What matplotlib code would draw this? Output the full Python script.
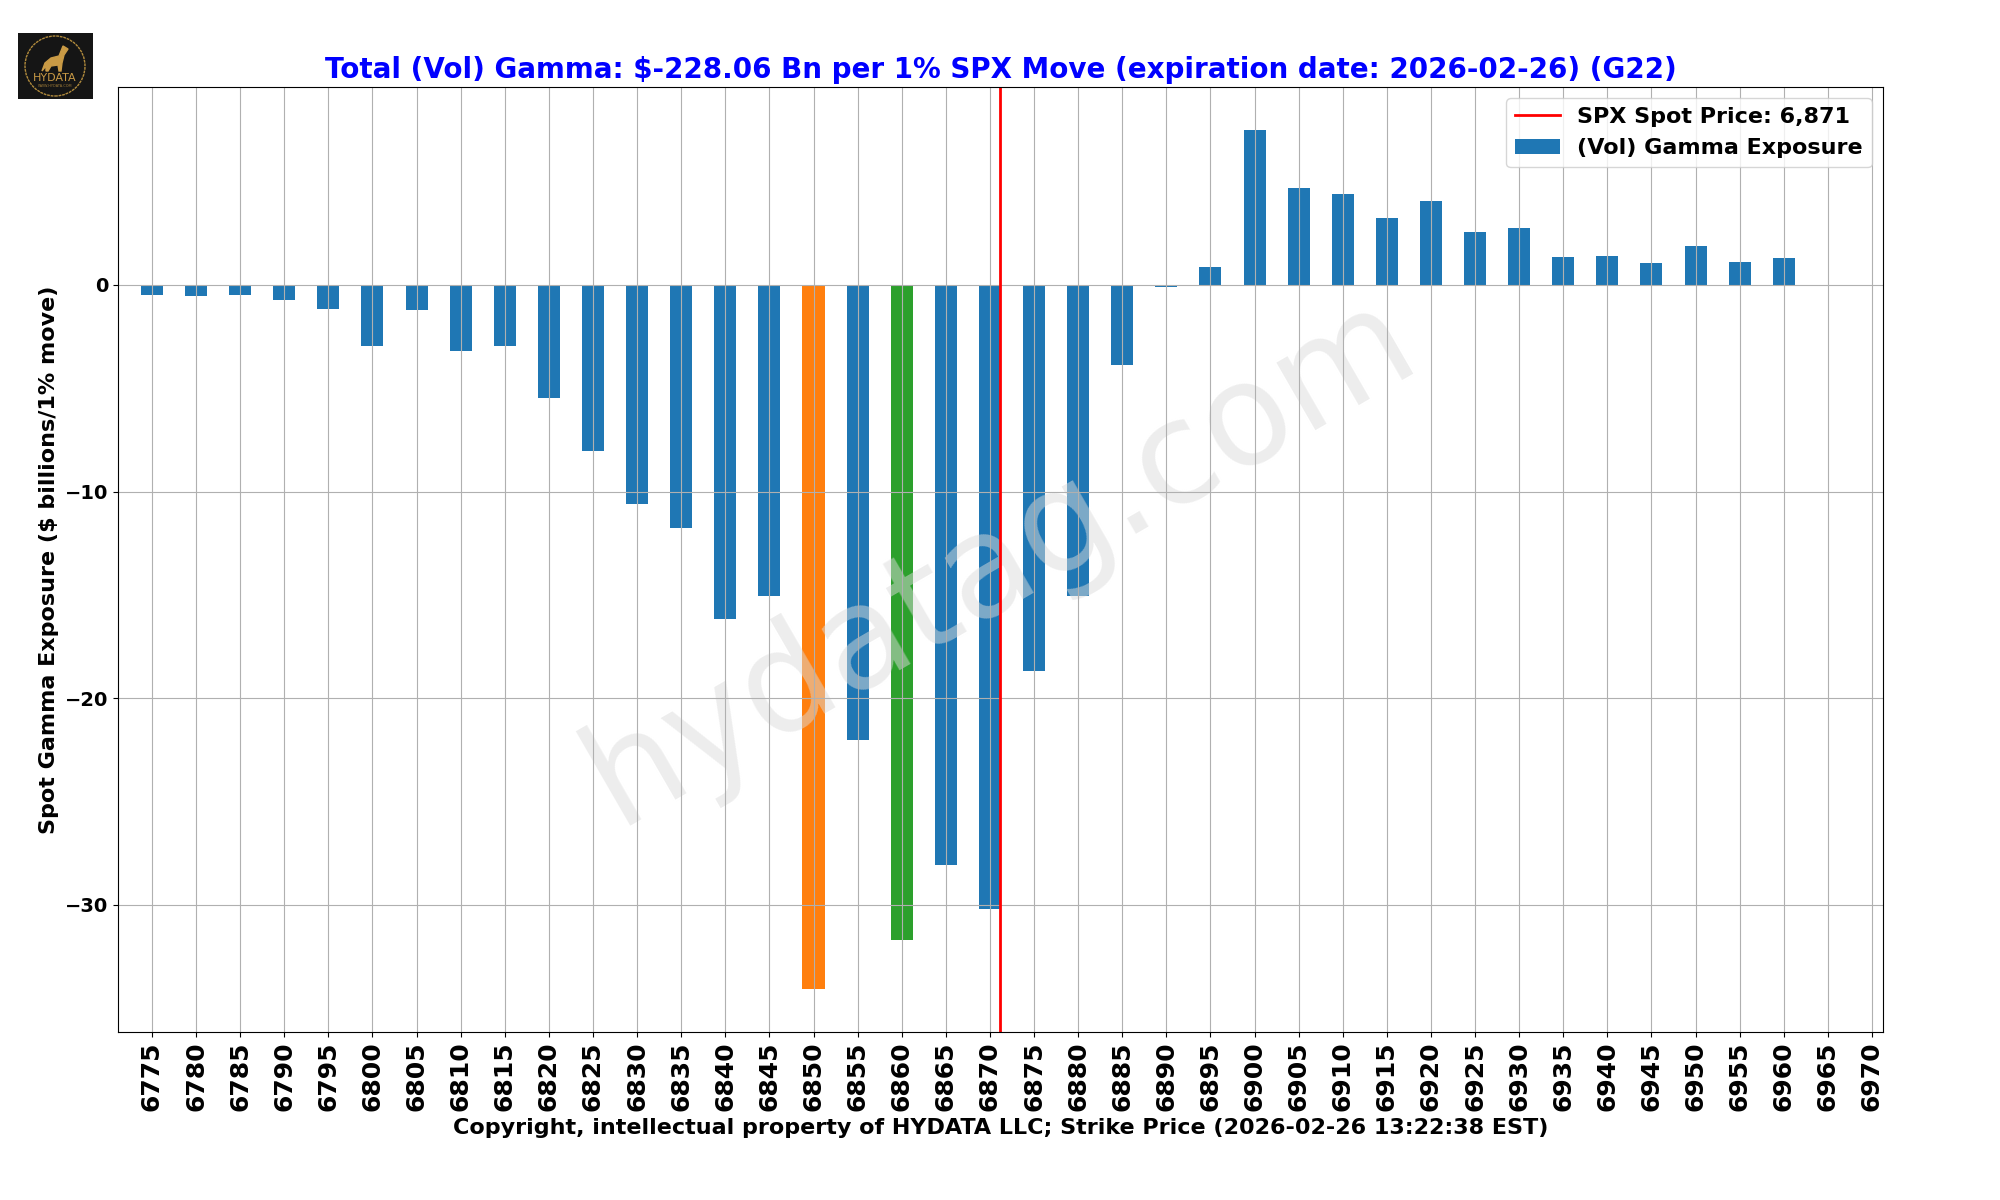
import matplotlib
matplotlib.use('Agg')
import matplotlib.pyplot as plt
from matplotlib.patches import Circle, Polygon

strikes = [6775, 6780, 6785, 6790, 6795, 6800, 6805, 6810, 6815, 6820,
           6825, 6830, 6835, 6840, 6845, 6850, 6855, 6860, 6865, 6870,
           6875, 6880, 6885, 6890, 6895, 6900, 6905, 6910, 6915, 6920,
           6925, 6930, 6935, 6940, 6945, 6950, 6955, 6960, 6965, 6970]
gamma = [-0.47, -0.56, -0.47, -0.71, -1.15, -2.96, -1.2, -3.2, -2.96, -5.48,
         -8.05, -10.6, -11.78, -16.17, -15.05, -34.08, -22.03, -31.7, -28.08, -30.22,
         -18.7, -15.05, -3.88, -0.1, 0.88, 7.52, 4.71, 4.42, 3.26, 4.08,
         2.58, 2.77, 1.37, 1.42, 1.04, 1.86, 1.13, 1.28, 0, 0]
spot = 6871.2
min_strike = 6850
second_strike = 6860
title = 'Total (Vol) Gamma: $-228.06 Bn per 1% SPX Move (expiration date: 2026-02-26) (G22)'
xlabel = 'Copyright, intellectual property of HYDATA LLC; Strike Price (2026-02-26 13:22:38 EST)'
ylabel = 'Spot Gamma Exposure ($ billions/1% move)'

W, H = 2000, 1200
fig = plt.figure(figsize=(W / 100, H / 100), dpi=100)
ax = fig.add_axes([118 / W, 1 - 1032 / H, (1883 - 118) / W, (1032 - 87) / H])

colors = []
for s in strikes:
    if s == min_strike:
        colors.append('C1')
    elif s == second_strike:
        colors.append('C2')
    else:
        colors.append('C0')

pos = list(range(len(strikes)))
bars = ax.bar(pos, gamma, width=0.5, color=colors, label='(Vol) Gamma Exposure')
spot_pos = (spot - strikes[0]) / 5
ax.axvline(spot_pos, color='red', linewidth=2, label=f'SPX Spot Price: {round(spot):,}')

ax.set_xlim(-0.77, 39.25)
ax.set_ylim(-36.16, 9.58)
ax.grid(True)
ax.set_xticks(pos)
ax.set_xticklabels(strikes, rotation=90, fontsize=18, fontweight='bold')
for lab in ax.get_yticklabels():
    lab.set_fontsize(14)
    lab.set_fontweight('bold')
ax.set_xlabel(xlabel, fontsize=16, fontweight='bold', labelpad=4.7)
ax.set_ylabel(ylabel, fontsize=16, fontweight='bold')
ax.set_title(title, fontsize=20, fontweight='bold', color='blue', pad=6.5)

handles, labels = ax.get_legend_handles_labels()
ax.legend(handles, labels, loc='upper right', prop={'size': 16, 'weight': 'bold'})

# watermark sits over the bars but under the grid
ax.text(0.5, 0.5, 'hydatag.com', transform=ax.transAxes, fontsize=102, color='#dcdcdc',
        alpha=0.5, rotation=30, ha='center', va='center', zorder=1.2)

# logo
logo = fig.add_axes([18 / W, 1 - 99 / H, 75 / W, 66 / H])
logo.set_xlim(0, 75)
logo.set_ylim(0, 66)
logo.set_facecolor('#151515')
logo.set_xticks([])
logo.set_yticks([])
for sp in logo.spines.values():
    sp.set_visible(False)
logo.add_patch(Circle((37, 33), 30, fill=False, edgecolor='#b08a3c', linewidth=1, linestyle=(0, (2, 0.6))))
logo.add_patch(Polygon([(24, 28), (27, 36), (33, 41), (41, 43), (45, 53), (50, 50), (46, 44),
                        (44, 36), (43, 28), (41, 28), (40, 34), (33, 33), (30, 28), (28, 28), (28, 33)],
                       closed=True, color='#c99a45'))
logo.text(37, 21, 'HYDATA', color='#c99a45', fontsize=8, ha='center', va='center')
logo.text(37, 13, 'WWW.HYDATA.COM', color='#a07c38', fontsize=2.5, ha='center', va='center')

fig.savefig('out.png', dpi=100)
